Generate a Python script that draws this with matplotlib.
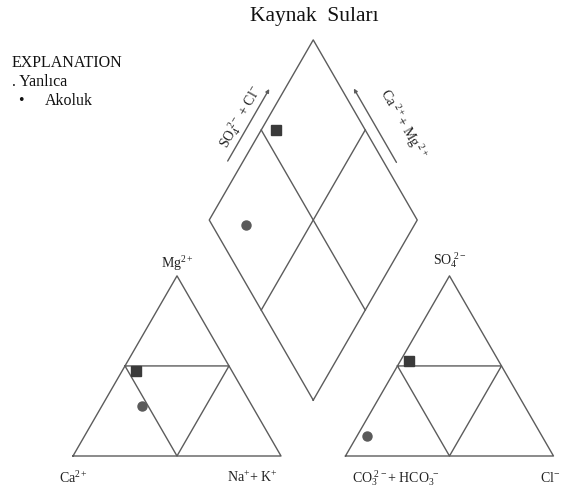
import numpy as np
import matplotlib
matplotlib.use("Agg")
import matplotlib.pyplot as plt

plt.rcParams['font.family'] = ['Liberation Serif', 'DejaVu Serif']
plt.rcParams['mathtext.fontset'] = 'custom'
plt.rcParams['mathtext.rm'] = 'Liberation Serif'
plt.rcParams['mathtext.it'] = 'Liberation Serif'

# Kaynak suları, % meq
sources = ['Yanlıca', 'Akoluk']
markers = ['s', 'o']
marker_sizes = [7.5, 6.5]
marker_colors = ['#3a3a3a', '#5a5a5a']
ca = [46, 53]
mg = [47, 28]
na_k = [7, 19]
hco3 = [43, 84]
so4 = [53, 11]
cl = [4, 5]

LINE = '#5c5c5c'
TXT = '#222222'
S3 = np.sqrt(3) / 2
GAP = 0.31                      # space between the two triangles
RIGHT0 = 1 + GAP
BOTTOM = np.array([1 + GAP / 2, GAP * S3])
U1 = np.array([0.5, S3])        # SO4 + Cl direction in the diamond
U2 = np.array([-0.5, S3])       # Ca + Mg direction in the diamond


def cation_xy(c, m, n):
    t = c + m + n
    return n / t + m / t / 2, m / t * S3


def anion_xy(h, s, c):
    t = h + s + c
    return RIGHT0 + c / t + s / t / 2, s / t * S3


def diamond_xy(c, m, n, h, s, cl_):
    a = (s + cl_) / (h + s + cl_)
    b = (c + m) / (c + m + n)
    p = BOTTOM + a * U1 + b * U2
    return p[0], p[1]


def triangle(ax, x0):
    ax.plot([x0, x0 + 1, x0 + 0.5, x0], [0, 0, S3, 0], color=LINE, lw=1.0)
    ax.plot([x0 + 0.25, x0 + 0.75, x0 + 0.5, x0 + 0.25],
            [S3 / 2, S3 / 2, 0, S3 / 2], color=LINE, lw=1.0)


fig = plt.figure(figsize=(5.61, 4.99), dpi=100)
ax = fig.add_axes([0, 0, 1, 1])
px = 208.0
ax.set_xlim(-73 / px, (561 - 73) / px)
ax.set_ylim((456 - 499) / px, 456 / px)
ax.axis('off')

triangle(ax, 0)
triangle(ax, RIGHT0)

# diamond outline and centre lines
corners = [BOTTOM, BOTTOM + U1, BOTTOM + U1 + U2, BOTTOM + U2, BOTTOM]
ax.plot([p[0] for p in corners], [p[1] for p in corners], color=LINE, lw=1.0)
for a, b in [(BOTTOM + U1 / 2, BOTTOM + U1 / 2 + U2),
             (BOTTOM + U2 / 2, BOTTOM + U2 / 2 + U1)]:
    ax.plot([a[0], b[0]], [a[1], b[1]], color=LINE, lw=1.0)

# samples
for i in range(len(sources)):
    pts = [cation_xy(ca[i], mg[i], na_k[i]),
           anion_xy(hco3[i], so4[i], cl[i]),
           diamond_xy(ca[i], mg[i], na_k[i], hco3[i], so4[i], cl[i])]
    for x, y in pts:
        ax.plot(x, y, marker=markers[i], ms=marker_sizes[i], ls='none',
                color=marker_colors[i], mec=marker_colors[i])

# corner labels
fs = 10
ax.text(0.5, S3 + 0.06, 'Mg$^{2+}$', ha='center', va='center', fontsize=fs, color=TXT)
ax.text(0.0, -0.105, 'Ca$^{2+}$', ha='center', va='center', fontsize=fs, color=TXT)
ax.text(0.86, -0.105, 'Na$^{+}$+ K$^{+}$', ha='center', va='center', fontsize=fs, color=TXT)
ax.text(RIGHT0 + 0.5, S3 + 0.075, 'SO$_4^{\\ 2-}$', ha='center', va='center', fontsize=fs, color=TXT)
ax.text(RIGHT0 + 0.24, -0.105, 'CO$_3^{\\ 2-}$+ HCO$_3^{\\ -}$', ha='center', va='center', fontsize=fs, color=TXT)
ax.text(RIGHT0 + 0.985, -0.105, 'Cl$^{-}$', ha='center', va='center', fontsize=fs, color=TXT)

# diamond side labels with arrows
left_v = BOTTOM + U2
right_v = BOTTOM + U1
n_left = np.array([-S3, 0.5]) * 0.065
n_right = np.array([S3, 0.5]) * 0.065
a0, a1 = left_v + 0.29 * U1 + n_left, left_v + 0.69 * U1 + n_left
ax.annotate('', xy=a1, xytext=a0,
            arrowprops=dict(arrowstyle='-|>', color=LINE, lw=1.0,
                            mutation_scale=5, shrinkA=0, shrinkB=0))
b0, b1 = right_v + 0.29 * U2 + n_right * 0.8, right_v + 0.70 * U2 + n_right * 0.8
ax.annotate('', xy=b1, xytext=b0,
            arrowprops=dict(arrowstyle='-|>', color=LINE, lw=1.0,
                            mutation_scale=5, shrinkA=0, shrinkB=0))
t = left_v + 0.505 * U1 + n_left * 1.8
ax.text(t[0], t[1], 'SO$_4^{\\ 2-}$ + Cl$^{-}$', rotation=60, ha='center',
        va='center', fontsize=fs, color=TXT, rotation_mode='anchor')
t = right_v + 0.436 * U2 + n_right * 2.6
ax.text(t[0], t[1], 'Ca$^{\\ 2+}$+ Mg$^{\\ 2+}$', rotation=-60, ha='center',
        va='center', fontsize=fs, color=TXT, rotation_mode='anchor')

# title and explanation
fig.text(314 / 561, 1 - 17 / 499, 'Kaynak  Suları', ha='center', va='center',
         fontsize=15.5, color='#111111')
fig.text(12 / 561, 1 - 63 / 499, 'EXPLANATION', ha='left', va='center',
         fontsize=11.5, color='#111111')
fig.text(12 / 561, 1 - 82 / 499, '. Yanlıca', ha='left', va='center',
         fontsize=11.5, color='#111111')
fig.text(18 / 561, 1 - 101 / 499, '•', ha='left', va='center',
         fontsize=11.5, color='#111111')
fig.text(45 / 561, 1 - 101 / 499, 'Akoluk', ha='left', va='center',
         fontsize=11.5, color='#111111')

fig.savefig('out.png', dpi=100)
